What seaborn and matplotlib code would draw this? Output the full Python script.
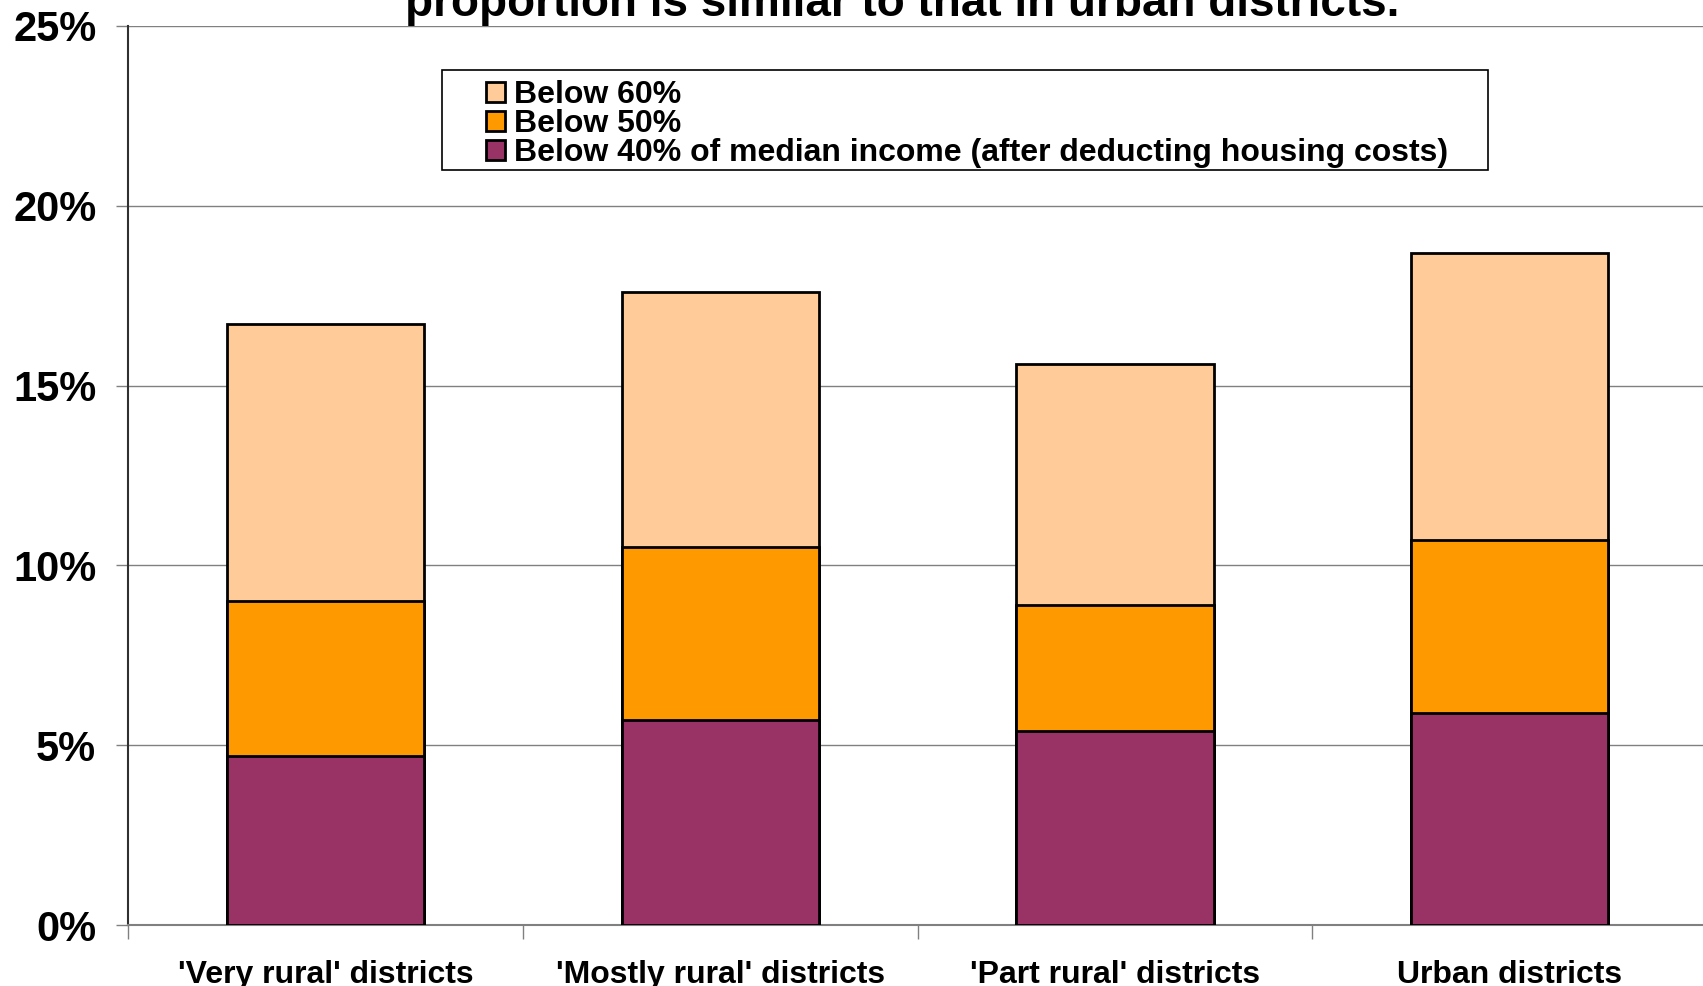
import matplotlib
matplotlib.use("Agg")
import matplotlib.pyplot as plt
import matplotlib.patches as mpatches
from matplotlib.ticker import FixedLocator, FuncFormatter
import pandas as pd
import seaborn as sns

CATEGORIES = [
    "'Very rural' districts",
    "'Mostly rural' districts",
    "'Part rural' districts",
    "Urban districts",
]
BELOW_60 = [16.7, 17.6, 15.6, 18.7]
BELOW_50 = [9.0, 10.5, 8.9, 10.7]
BELOW_40 = [4.7, 5.7, 5.4, 5.9]
SERIES_LABELS = [
    "Below 60%",
    "Below 50%",
    "Below 40% of median income (after deducting housing costs)",
]
TITLE_LINE = "proportion is similar to that in urban districts."

COLORS = ["#FFCC99", "#FF9900", "#993366"]

sns.set_style("white")
plt.rcParams["font.family"] = ["Liberation Sans", "DejaVu Sans"]
plt.rcParams["text.color"] = "black"
plt.rcParams["xtick.color"] = "black"
plt.rcParams["ytick.color"] = "black"
plt.rcParams["xtick.labelcolor"] = "black"
plt.rcParams["ytick.labelcolor"] = "black"

df = pd.DataFrame(
    {"district": CATEGORIES, "b60": BELOW_60, "b50": BELOW_50, "b40": BELOW_40}
)

fig = plt.figure(figsize=(17.03, 9.86), dpi=100)
ax = fig.add_axes([0.0753, 0.0617, 0.927, 0.912])

# overlapping bars: widest threshold first so narrower ones sit on top
for col, color in zip(["b60", "b50", "b40"], COLORS):
    sns.barplot(
        data=df, x="district", y=col, color=color, edgecolor="black",
        linewidth=2.0, width=0.5, saturation=1, ax=ax, zorder=3,
    )

ax.set_xlim(-0.5, 3.5)
ax.set_ylim(0, 25)
ax.set_yticks([0, 5, 10, 15, 20, 25])
ax.yaxis.set_major_formatter(FuncFormatter(lambda v, p: f"{v:.0f}%"))
ax.grid(axis="y", color="#808080", linewidth=1.0, zorder=0)
ax.set_axisbelow(True)
ax.set_xlabel("")
ax.set_ylabel("")

for lbl in ax.get_yticklabels():
    lbl.set_fontsize(30)
    lbl.set_fontweight("bold")
ax.tick_params(axis="y", direction="out", length=9, width=1, color="#808080",
               pad=14, left=True)

ax.tick_params(axis="x", which="major", length=0, pad=25)
for lbl in ax.get_xticklabels():
    lbl.set_fontsize(23)
    lbl.set_fontweight("bold")
ax.xaxis.set_minor_locator(FixedLocator([-0.5, 0.5, 1.5, 2.5]))
ax.tick_params(axis="x", which="minor", direction="out", length=10, width=1,
               color="#808080", bottom=True)

for side in ["top", "right"]:
    ax.spines[side].set_visible(False)
ax.spines["left"].set_color("#303030")
ax.spines["left"].set_linewidth(1.5)
ax.spines["bottom"].set_color("#808080")
ax.spines["bottom"].set_linewidth(1.5)

# title (first line falls outside the canvas)
fig.text(0.530, 0.984, TITLE_LINE, ha="center", va="baseline",
         fontsize=33, fontweight="bold")

# legend box
box = mpatches.Rectangle((0.2596, 0.8271), 0.6141, 0.1024,
                         transform=fig.transFigure, facecolor="white",
                         edgecolor="black", linewidth=1.2, zorder=5)
fig.patches.append(box)
handles = [mpatches.Patch(facecolor=c, edgecolor="black", linewidth=2.0)
           for c in COLORS]
leg = fig.legend(
    handles, SERIES_LABELS, loc="upper left",
    bbox_to_anchor=(0.2851, 0.9186), bbox_transform=fig.transFigure,
    frameon=False, borderpad=0, borderaxespad=0,
    prop={"weight": "bold", "size": 23},
    handlelength=0.62, handleheight=0.62, handletextpad=0.28,
    labelspacing=-0.03,
)
leg.set_zorder(6)

fig.savefig("out.png", dpi=100)
